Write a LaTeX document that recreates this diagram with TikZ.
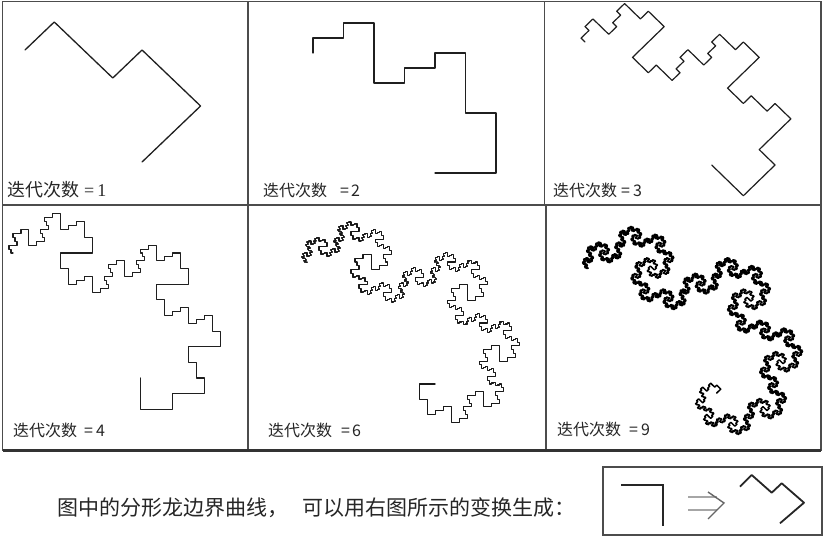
\documentclass[tikz,border=0pt]{standalone}
\usepackage{fontspec}
\newfontfamily\cjk{Noto Sans CJK SC}
\newfontfamily\serifdig{Liberation Serif}
\makeatletter
\newcount\dgcnt
% leaf: P=(#1,#2) screen coords, arm a=(#3,#4), dir #5
\def\dgleaf#1#2#3#4#5{%
  \ifnum#5=0
    \pgfpathlineto{\pgfqpoint{\dimexpr#1+#3\relax}{\dimexpr-#2-#4\relax}}%
    \edef\dglastx{\the\dimexpr#1+#3-#4\relax}%
    \edef\dglasty{\the\dimexpr-#2-#4-#3\relax}%
  \else
    \pgfpathlineto{\pgfqpoint{\dimexpr#1+#3\relax}{\dimexpr-#2-#4\relax}}%
    \edef\dglastx{\the\dimexpr#1\relax}%
    \edef\dglasty{\the\dimexpr-#2\relax}%
  \fi
  \pgfpathlineto{\pgfqpoint{\dglastx}{\dglasty}}%
  \advance\dgcnt by 1
  \ifnum\dgcnt>300
    \pgfusepath{stroke}\pgfpathmoveto{\pgfqpoint{\dglastx}{\dglasty}}\dgcnt=0
  \fi}
\def\dgrec#1#2#3#4#5#6{%
  \ifnum#1=0 \dgleaf{#2}{#3}{#4}{#5}{#6}\else\dgrecB{#1}{#2}{#3}{#4}{#5}{#6}\fi}
\def\dgrecB#1#2#3#4#5#6{%
  \begingroup
  \edef\dgn{\the\numexpr#1-1\relax}%
  \edef\dgax{\the\dimexpr(#4+#5)/4\relax}%
  \edef\dgay{\the\dimexpr(#5-#4)/4\relax}%
  \edef\dgmax{\the\dimexpr-\dgax\relax}%
  \edef\dgmay{\the\dimexpr-\dgay\relax}%
  \edef\dgcx{\the\dimexpr#2+#4\relax}%
  \edef\dgcy{\the\dimexpr#3+#5\relax}%
  \edef\dgbx{\the\dimexpr(#4-#5)/2\relax}%
  \edef\dgby{\the\dimexpr(#5+#4)/2\relax}%
  \ifnum#6=0
    \edef\dgnext{\noexpand\dgrec{\dgn}{#2}{#3}{\dgax}{\dgay}{0}%
      \noexpand\dgrec{\dgn}{\dgcx}{\dgcy}{\dgmax}{\dgmay}{1}%
      \noexpand\dgrec{\dgn}{\dgcx}{\dgcy}{\dgbx}{\dgby}{0}}%
  \else
    \edef\dgnext{\noexpand\dgrec{\dgn}{\dgcx}{\dgcy}{\dgbx}{\dgby}{1}%
      \noexpand\dgrec{\dgn}{\dgcx}{\dgcy}{\dgmax}{\dgmay}{0}%
      \noexpand\dgrec{\dgn}{#2}{#3}{\dgax}{\dgay}{1}}%
  \fi
  \expandafter\endgroup\dgnext}
% \dragoncurve{level}{arm length}
\def\dragoncurve#1#2{%
  \pgfpathmoveto{\pgfqpoint{0pt}{0pt}}\dgcnt=0
  \dgrec{#1}{0pt}{0pt}{#2pt}{0pt}{0}%
  \pgfusepath{stroke}}
\makeatother
\begin{document}
\begin{tikzpicture}[x=1pt,y=-1pt,
  frameline/.style={draw=black!70,line width=1.6pt},
  lab/.style={anchor=west,inner sep=0pt,text=black!85,font=\cjk\fontsize{16}{16}\selectfont},
  curvestyle/.style={draw=black!88}]
\useasboundingbox (0,0) rectangle (825,537);
\fill[white] (0,0) rectangle (825,537);
% frame
\draw[frameline] (2.5,1.5) rectangle (821,450.5);
\draw[frameline] (2.5,205) -- (821,205);
\draw[frameline] (248,1.5) -- (248,450.5);
\draw[frameline] (544.5,1.5) -- (544.5,205);
\draw[frameline] (546,205) -- (546,450.5);
\draw[draw=black!80,line width=2.2pt] (2.5,450.5) -- (821,450.5);
% curves
\begin{scope}[shift={(25,50)},xscale=1.045]
  \pgfsetlinewidth{1.3pt}\pgfsetroundjoin\pgfsetroundcap\pgfsetstrokecolor{black!88}
  \dragoncurve{1}{112}
\end{scope}
\begin{scope}[shift={(313,53)},xscale=1.017]
  \pgfsetlinewidth{1.2pt}\pgfsetroundjoin\pgfsetroundcap\pgfsetstrokecolor{black!88}
  \dragoncurve{2}{120}
\end{scope}
\begin{scope}[shift={(585,42)},xscale=1.03]
  \pgfsetlinewidth{1.2pt}\pgfsetroundjoin\pgfsetroundcap\pgfsetstrokecolor{black!88}
  \dragoncurve{3}{123}
\end{scope}
\begin{scope}[shift={(13,253)},xscale=1.02]
  \pgfsetlinewidth{1.1pt}\pgfsetroundjoin\pgfsetroundcap\pgfsetstrokecolor{black!88}
  \dragoncurve{4}{125}
\end{scope}
\begin{scope}[shift={(307,262)},xscale=1.05]
  \pgfsetlinewidth{1.1pt}\pgfsetroundjoin\pgfsetroundcap\pgfsetstrokecolor{black!90}
  \dragoncurve{6}{122}
\end{scope}
\begin{scope}[shift={(588,268)},xscale=1.03]
  \pgfsetlinewidth{1.5pt}\pgfsetroundjoin\pgfsetroundcap\pgfsetstrokecolor{black}
  \dragoncurve{9}{125}
\end{scope}
% labels
\node[lab,font=\cjk\fontsize{18}{18}\selectfont] (t1) at (7,190) {迭代次数\hspace{5pt}{\serifdig =\hspace{3pt}1}};
\node[lab] (t2) at (263,190) {迭代次数\hspace{13pt}=\hspace{2pt}2};
\node[lab] (t3) at (553,190) {迭代次数\hspace{4pt}=\hspace{3pt}3};
\node[lab] (t4) at (13,430.5) {迭代次数\hspace{7pt}=\hspace{3pt}4};
\node[lab] (t5) at (268,430) {迭代次数\hspace{9pt}=\hspace{2pt}6};
\node[lab] (t6) at (557,429.5) {迭代次数\hspace{8pt}=\hspace{3pt}9};
% caption
\node[anchor=west,inner sep=0pt,text=black!85,font=\cjk\fontsize{21}{21}\selectfont] (cap) at (57,508)
  {图中的分形龙边界曲线，\hspace{14pt}可以用右图所示的变换生成：};
% transformation box
\draw[draw=black!70,line width=1.4pt] (603,467) rectangle (822,535);
\draw[black!85,line width=2pt] (621,485) -- (663,485) -- (663,526);
\draw[black!35,line width=1.6pt] (688,497) -- (717,497) (688,510) -- (717,510);
\draw[black!60,line width=1.4pt] (708,492) -- (724,503) -- (708,519);
\draw[black!85,line width=1.8pt,line join=round] (740,486.7) -- (751.7,475) -- (771.7,492.7) -- (781.7,483.3) -- (804,502.7) -- (780,523.3);
\end{tikzpicture}
\end{document}
